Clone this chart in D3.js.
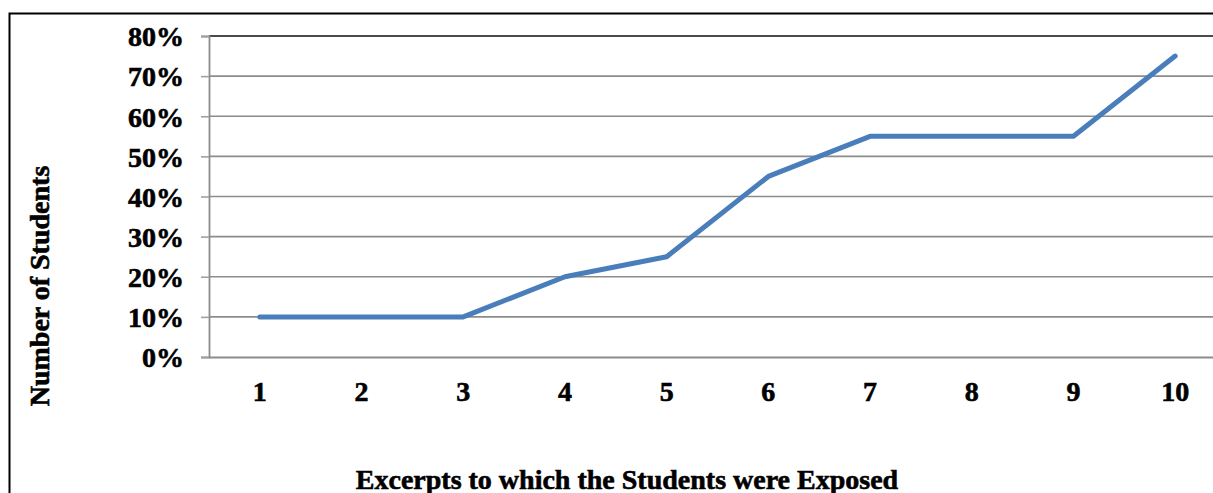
<!DOCTYPE html>
<html>
<head>
<meta charset="utf-8">
<script src="https://cdn.jsdelivr.net/npm/d3@7"></script>
<style>
html,body{margin:0;padding:0;background:#fff;}
svg{display:block;}
text{font-family:"Liberation Serif","Times New Roman",serif;font-weight:bold;fill:#000;stroke:#000;stroke-width:0.6px;}
</style>
</head>
<body>
<svg id="chart" width="1213" height="493"></svg>
<script>
const categories = ["1","2","3","4","5","6","7","8","9","10"];
const values = [0.10,0.10,0.10,0.20,0.25,0.45,0.55,0.55,0.55,0.75];
const yTicks = [0,0.1,0.2,0.3,0.4,0.5,0.6,0.7,0.8];
const xTitle = "Excerpts to which the Students were Exposed";
const yTitle = "Number of Students";

(function(){
const svg = d3.select("#chart");
const mLeft = 209, mRight = 1226, mTop = 36, mBottom = 357;

// outer frame
svg.append("rect").attr("x",9.5).attr("y",13.5).attr("width",1300).attr("height",600)
  .attr("fill","none").attr("stroke","#000").attr("stroke-width",2);

const x = d3.scaleBand().domain(categories).range([mLeft,mRight]);
const y = d3.scaleLinear().domain([0,0.8]).range([mBottom,mTop]);

// gridlines
svg.append("g").selectAll("line").data(yTicks.filter(d=>d>0 && d<0.8)).join("line")
  .attr("x1",mLeft).attr("x2",mRight).attr("y1",d=>y(d)).attr("y2",d=>y(d))
  .attr("stroke","#8c8c8c").attr("stroke-width",1.6);
// top border
svg.append("line").attr("x1",mLeft).attr("x2",mRight).attr("y1",y(0.8)).attr("y2",y(0.8))
  .attr("stroke","#111").attr("stroke-width",1.6);

// y axis
const yAxis = svg.append("g").attr("transform",`translate(${mLeft},0)`)
  .call(d3.axisLeft(y).tickValues(yTicks).tickFormat(d3.format(".0%")).tickSize(8).tickPadding(17));
yAxis.select(".domain").attr("stroke","#8c8c8c").attr("stroke-width",1.8);
yAxis.selectAll(".tick line").attr("stroke","#a0a0a0").attr("stroke-width",1.6);
yAxis.selectAll(".tick text").attr("font-size",28).attr("font-family","Liberation Serif").attr("font-weight","bold").attr("fill","#000").attr("dy","0.35em");

// x axis
const xAxis = svg.append("g").attr("transform",`translate(0,${mBottom})`)
  .call(d3.axisBottom(x).tickSize(0).tickPadding(24));
xAxis.select(".domain").attr("stroke","#8c8c8c").attr("stroke-width",1.8);
xAxis.selectAll(".tick text").attr("font-size",28).attr("font-family","Liberation Serif").attr("font-weight","bold").attr("fill","#000");

// line
const line = d3.line().x((d,i)=>x(categories[i])+x.bandwidth()/2).y(d=>y(d));
svg.append("path").datum(values).attr("d",line).attr("fill","none")
  .attr("stroke","#4a7ebb").attr("stroke-width",5).attr("stroke-linejoin","round").attr("stroke-linecap","round");

// titles
svg.append("text").attr("x",627).attr("y",489).attr("text-anchor","middle").attr("font-size",28).text(xTitle);
svg.append("text").attr("transform","translate(49,286) rotate(-90)").attr("text-anchor","middle").attr("font-size",28).text(yTitle);
})();
</script>
</body>
</html>
